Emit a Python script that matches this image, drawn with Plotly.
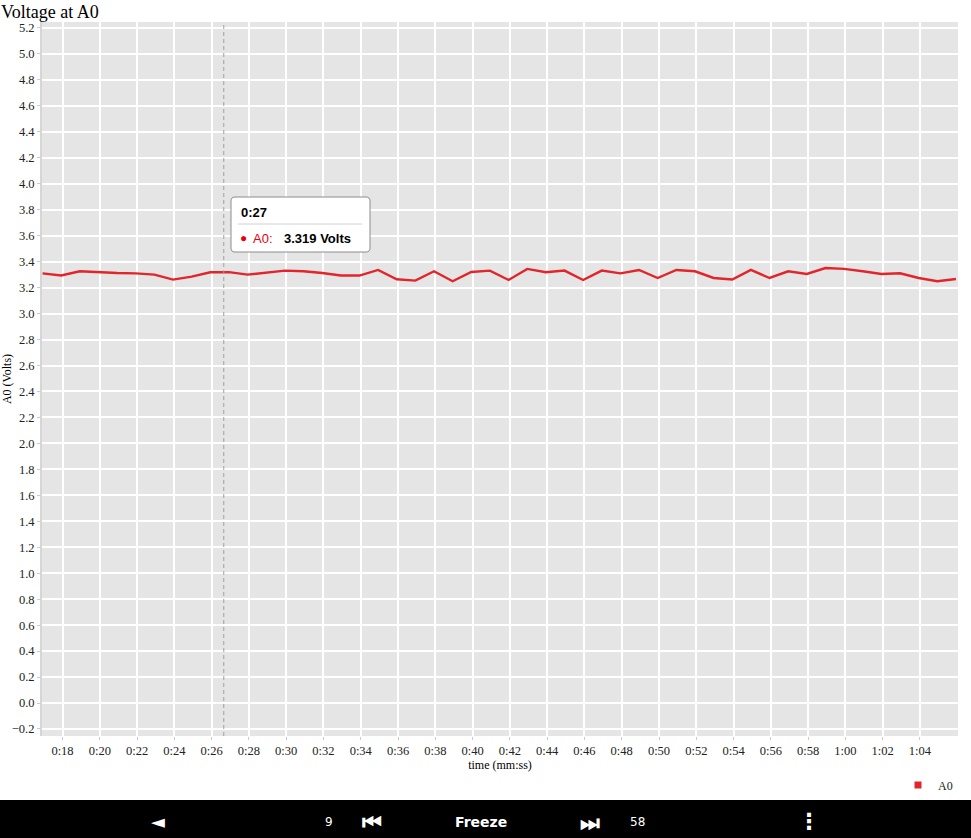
import plotly.graph_objects as go

# ---------------- data ----------------
times_s = [16.93 + k for k in range(50)]
volts = [3.310, 3.293, 3.326, 3.318, 3.313, 3.310, 3.300, 3.262, 3.285, 3.318,
         3.319, 3.300, 3.313, 3.331, 3.326, 3.313, 3.293, 3.293, 3.336, 3.264,
         3.254, 3.326, 3.249, 3.320, 3.331, 3.259, 3.344, 3.318, 3.331, 3.259,
         3.331, 3.310, 3.336, 3.274, 3.336, 3.326, 3.274, 3.262, 3.336, 3.274,
         3.326, 3.305, 3.351, 3.344, 3.326, 3.305, 3.310, 3.274, 3.249, 3.266]
x_tick_vals = list(range(18, 66, 2))
x_tick_text = ["0:18", "0:20", "0:22", "0:24", "0:26", "0:28", "0:30", "0:32", "0:34",
               "0:36", "0:38", "0:40", "0:42", "0:44", "0:46", "0:48", "0:50", "0:52",
               "0:54", "0:56", "0:58", "1:00", "1:02", "1:04"]
y_tick_vals = [round(-0.2 + 0.2 * i, 1) for i in range(28)]
cursor_time = 26.65
tip_time = "0:27"
tip_value = "3.319 Volts"

W, H = 971, 838
L, R, T, B = 42, 13, 22, 102
PW, PH = W - L - R, H - T - B


def px(x):
    return (x - L) / PW


def py(y):
    return (H - B - y) / PH


SERIF = "Liberation Serif, Times New Roman, serif"
SANS = "Liberation Sans, Arial, sans-serif"
LINE_RED = "#e3242b"

fig = go.Figure()
fig.add_trace(go.Scatter(x=times_s, y=volts, mode="lines", name="A0",
                         line=dict(color=LINE_RED, width=2.4), showlegend=False,
                         hoverinfo="skip"))
fig.add_trace(go.Scatter(x=[None], y=[None], mode="markers", name="A0",
                         marker=dict(symbol="square", color=LINE_RED, size=7),
                         showlegend=True))

shapes = []
# cursor line
shapes.append(dict(type="line", xref="x", yref="paper", x0=cursor_time, x1=cursor_time,
                   y0=0, y1=1, line=dict(color="#a0a0a0", width=1, dash="4px,3px")))

# tooltip box (rounded)
bx0, bx1, by0, by1, r = 231, 370, 197, 252, 4


def P(x, y):
    return f"{px(x):.5f},{py(y):.5f}"


path = (f"M {P(bx0 + r, by0)} L {P(bx1 - r, by0)} Q {P(bx1, by0)} {P(bx1, by0 + r)} "
        f"L {P(bx1, by1 - r)} Q {P(bx1, by1)} {P(bx1 - r, by1)} "
        f"L {P(bx0 + r, by1)} Q {P(bx0, by1)} {P(bx0, by1 - r)} "
        f"L {P(bx0, by0 + r)} Q {P(bx0, by0)} {P(bx0 + r, by0)} Z")
shapes.append(dict(type="path", xref="paper", yref="paper", path=path,
                   fillcolor="white", line=dict(color="#8c8c8c", width=1)))
shapes.append(dict(type="line", xref="paper", yref="paper", x0=px(238), x1=px(362),
                   y0=py(224), y1=py(224), line=dict(color="#d0d0d0", width=1)))
# bottom black bar
shapes.append(dict(type="rect", xref="paper", yref="paper", x0=px(0), x1=px(W),
                   y0=py(838), y1=py(800), fillcolor="black", line=dict(width=0),
                   layer="above"))

ann = []


def A(text, x, y, size, color="black", family=SANS, xanchor="left"):
    ann.append(dict(text=text, xref="paper", yref="paper", x=px(x), y=py(y),
                    xanchor=xanchor, yanchor="middle", showarrow=False,
                    font=dict(size=size, color=color, family=family)))


A("<b>" + tip_time + "</b>", 239, 212, 13)
A("●", 238, 238, 12, color="#e8000b")
A("A0:", 251, 238, 13, color="#e8000b")
A("<b>" + tip_value + "</b>", 282, 238, 13)

# bottom bar controls
A("◄", 158, 821, 18, color="white", family="DejaVu Sans", xanchor="center")
A("9", 329, 822, 12, color="white", family="DejaVu Sans", xanchor="center")
A("<b>⏮</b>", 372, 822, 22, color="white", family="DejaVu Sans", xanchor="center")
A("<b>Freeze</b>", 481, 822, 14, color="white", family="DejaVu Sans", xanchor="center")
A("<b>⏭</b>", 590, 822, 22, color="white", family="DejaVu Sans", xanchor="center")
A("58", 637, 822, 12, color="white", family="DejaVu Sans", xanchor="center")
A("<b>⋮</b>", 809, 821, 22, color="white", family="DejaVu Sans", xanchor="center")

fig.update_layout(
    width=W, height=H,
    margin=dict(l=L, r=R, t=T, b=B),
    paper_bgcolor="white",
    plot_bgcolor="#e5e5e5",
    title=dict(text="Voltage at A0", x=1 / W, xanchor="left", xref="container",
               y=1 - 12 / H, yanchor="middle", yref="container",
               font=dict(family=SERIF, size=18, color="black")),
    font=dict(family=SERIF, size=12, color="#222222"),
    xaxis=dict(range=[16.9, 66.04], tickvals=x_tick_vals, ticktext=x_tick_text,
               showgrid=True, gridcolor="white", gridwidth=2, zeroline=False,
               ticks="outside", ticklen=3, tickcolor="#cccccc", showline=False,
               automargin=False,
               title=dict(text="time (mm:ss)", font=dict(family=SERIF, size=12, color="black"),
                          standoff=2),
               tickfont=dict(family=SERIF, size=12.5, color="#222222")),
    yaxis=dict(range=[-0.254, 5.246], tickvals=y_tick_vals, tickformat=".1f",
               showgrid=True, gridcolor="white", gridwidth=2, zeroline=False,
               ticks="outside", ticklen=3, tickcolor="#cccccc",
               showline=True, linecolor="#d6d6d6", linewidth=2,
               automargin=False,
               title=dict(text="A0 (Volts)", font=dict(family=SERIF, size=12, color="black"),
                          standoff=4),
               tickfont=dict(family=SERIF, size=12.5, color="#222222")),
    legend=dict(x=1.0, xanchor="right", y=py(785), yanchor="middle",
                bgcolor="rgba(0,0,0,0)", font=dict(family=SERIF, size=12, color="#222222"),
                itemwidth=30),
    shapes=shapes,
    annotations=ann,
    showlegend=True,
)

fig.write_html("out.html", config={"displayModeBar": False},
               post_script="document.body.style.margin='0px';document.body.style.overflow='hidden';")
